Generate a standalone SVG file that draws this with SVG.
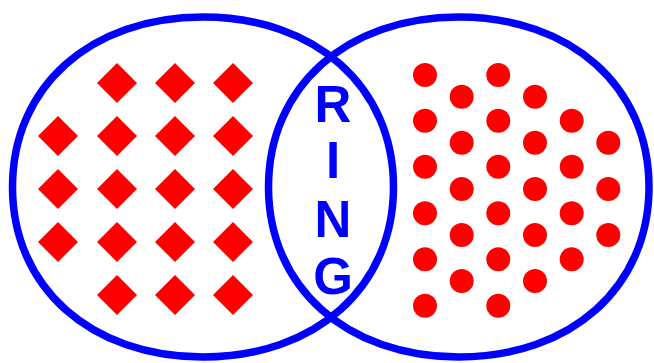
<svg xmlns="http://www.w3.org/2000/svg" xmlns:xlink="http://www.w3.org/1999/xlink" width="654" height="363" viewBox="0 0 654 363">
<style>
.ring{fill:none;stroke:#0000ff;stroke-width:7.5}
.dia{fill:#ff0000}
.dot{fill:#ff0000}
.lbl{font-family:"Liberation Sans",Arial,sans-serif;font-weight:bold;font-size:51px;fill:#0000ff;text-anchor:middle}
</style>
<defs>
<polygon id="d" class="dia" points="0,-20 20,0 0,20 -20,0"/>
</defs>
<rect width="654" height="363" fill="#ffffff"/>
<g id="left-set">
<path class="ring" d="M393.5,187 C393.5,287.3 315.4,357 203,357 C90.6,357 12.5,287.3 12.5,187 C12.5,86.7 90.6,17 203,17 C315.4,17 393.5,86.7 393.5,187 Z"/>
<use href="#d" x="117" y="83"/><use href="#d" x="175" y="83"/><use href="#d" x="233" y="83"/>
<use href="#d" x="58" y="136"/><use href="#d" x="117" y="136"/><use href="#d" x="175" y="136"/><use href="#d" x="233" y="136"/>
<use href="#d" x="58" y="189"/><use href="#d" x="117" y="189"/><use href="#d" x="175" y="189"/><use href="#d" x="233" y="189"/>
<use href="#d" x="58" y="242"/><use href="#d" x="117" y="242"/><use href="#d" x="175" y="242"/><use href="#d" x="233" y="242"/>
<use href="#d" x="117" y="295"/><use href="#d" x="175" y="295"/><use href="#d" x="233" y="295"/>
</g>
<g id="right-set">
<path class="ring" d="M649,187 C649,287.3 570.95,357 458.75,357 C346.55,357 268.5,287.3 268.5,187 C268.5,86.7 346.55,17 458.75,17 C570.95,17 649,86.7 649,187 Z"/>
<circle class="dot" cx="425" cy="75" r="12"/><circle class="dot" cx="425" cy="120.7" r="12"/><circle class="dot" cx="425" cy="166.7" r="12"/><circle class="dot" cx="425" cy="213.3" r="12"/><circle class="dot" cx="425" cy="259.3" r="12"/><circle class="dot" cx="425" cy="305.7" r="12"/>
<circle class="dot" cx="461.7" cy="96.7" r="12"/><circle class="dot" cx="461.7" cy="142.7" r="12"/><circle class="dot" cx="461.7" cy="189" r="12"/><circle class="dot" cx="461.7" cy="235" r="12"/><circle class="dot" cx="461.7" cy="281" r="12"/>
<circle class="dot" cx="498.3" cy="75" r="12"/><circle class="dot" cx="498.3" cy="120.7" r="12"/><circle class="dot" cx="498.3" cy="166.7" r="12"/><circle class="dot" cx="498.3" cy="213.3" r="12"/><circle class="dot" cx="498.3" cy="259.3" r="12"/><circle class="dot" cx="498.3" cy="305.7" r="12"/>
<circle class="dot" cx="535" cy="96.7" r="12"/><circle class="dot" cx="535" cy="142.7" r="12"/><circle class="dot" cx="535" cy="189" r="12"/><circle class="dot" cx="535" cy="235" r="12"/><circle class="dot" cx="535" cy="281" r="12"/>
<circle class="dot" cx="571.7" cy="120.7" r="12"/><circle class="dot" cx="571.7" cy="166.7" r="12"/><circle class="dot" cx="571.7" cy="213.3" r="12"/><circle class="dot" cx="571.7" cy="259.3" r="12"/>
<circle class="dot" cx="608.3" cy="142.7" r="12"/><circle class="dot" cx="608.3" cy="189" r="12"/><circle class="dot" cx="608.3" cy="235" r="12"/>
</g>
<g id="ring-label">
<text class="lbl" x="333" y="121.7">R</text>
<text class="lbl" x="333" y="178.3">I</text>
<text class="lbl" x="333" y="236.7">N</text>
<text class="lbl" x="333" y="294">G</text>
</g>
</svg>
